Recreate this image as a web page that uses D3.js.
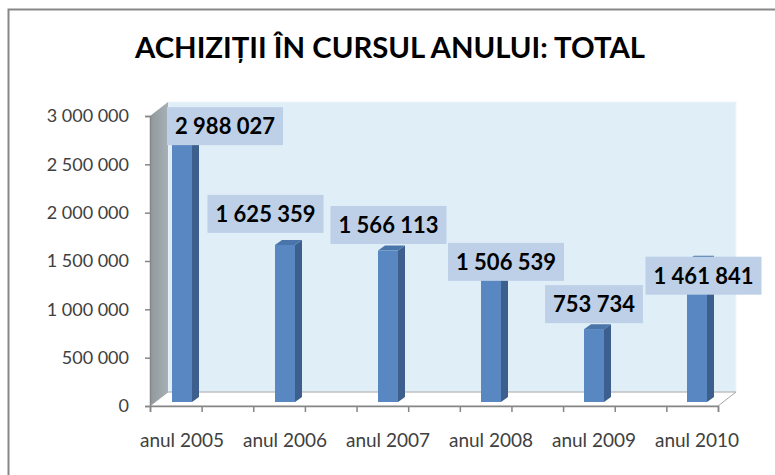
<!DOCTYPE html>
<html lang="ro">
<head>
  <meta charset="UTF-8">
  <title>Achizitii in cursul anului: total</title>
  <script src="https://d3js.org/d3.v7.min.js"></script>
  <style>
    body {
      margin: 0;
      padding: 0;
      background-color: #fff;
      font-family: Lato, "Open Sans", sans-serif;
    }
    svg {
      display: block;
    }
  </style>
</head>
<body>
  <svg id="chart"></svg>
  <script>
const categories = ["anul 2005", "anul 2006", "anul 2007", "anul 2008", "anul 2009", "anul 2010"];
const values = [2988027, 1625359, 1566113, 1506539, 753734, 1461841];
const yTicks = [0, 500000, 1000000, 1500000, 2000000, 2500000, 3000000];

// labels were moved by hand in the original, so nudge them the same way (dx, dy from bar top)
const labelShift = [[43, 13], [-19.5, -31], [0.5, -25.6], [15, 5.5], [0, -25], [6.5, 15]];

const width = 775;
const height = 475;
const depthX = 18;   // 3d offset of back wall
const depthY = -14;
const front = { left: 150, right: 718, bottom: 406, top: 116 };

const svg = d3.select("#chart")
  .attr("width", width)
  .attr("height", height);

const ro = d3.formatLocale({ decimal: ",", thousands: " ", grouping: [3], currency: ["", ""] });
const fmt = ro.format(",d");

// outer frame
svg.append("rect")
  .attr("x", 8.5).attr("y", 9.5)
  .attr("width", 790).attr("height", 490)
  .attr("fill", "#fff")
  .attr("stroke", "#878787")
  .attr("stroke-width", 2);

svg.append("text")
  .attr("x", 390)
  .attr("y", 58)
  .attr("text-anchor", "middle")
  .attr("textLength", 510)
  .attr("lengthAdjust", "spacingAndGlyphs")
  .style("font-size", "29px")
  .style("font-weight", "bold")
  .attr("fill", "#000")
  .text("ACHIZIȚII ÎN CURSUL ANULUI: TOTAL");

const y = d3.scaleLinear()
  .domain([0, 3000000])
  .range([front.bottom, front.top]);

const x = d3.scaleBand()
  .domain(categories)
  .range([130.5, 748.5]);

// back wall
svg.append("rect")
  .attr("x", front.left + depthX)
  .attr("y", front.top + depthY)
  .attr("width", front.right - front.left)
  .attr("height", front.bottom - front.top)
  .attr("fill", "#dfeef7")
  .attr("stroke", "#eef6fb")
  .attr("stroke-width", 1);

// side wall
const defs = svg.append("defs");
const grad = defs.append("linearGradient").attr("id", "wallGrad")
  .attr("x1", "0").attr("x2", "1").attr("y1", "0").attr("y2", "0");
grad.append("stop").attr("offset", "0").attr("stop-color", "#8f999d");
grad.append("stop").attr("offset", "1").attr("stop-color", "#a7b0b4");

svg.append("polygon")
  .attr("points", [
    [front.left, front.top], [front.left + depthX, front.top + depthY],
    [front.left + depthX, front.bottom + depthY], [front.left, front.bottom]
  ].join(" "))
  .attr("fill", "url(#wallGrad)");

// floor
svg.append("polygon")
  .attr("points", [
    [front.left, front.bottom], [front.left + depthX, front.bottom + depthY],
    [front.right + depthX, front.bottom + depthY], [front.right, front.bottom]
  ].join(" "))
  .attr("fill", "#fff")
  .attr("stroke", "#a6a6a6")
  .attr("stroke-width", 1);

// axes
const yAxis = svg.append("g")
  .attr("transform", `translate(${front.left},0)`)
  .call(d3.axisLeft(y).tickValues(yTicks).tickSize(5).tickPadding(16).tickFormat(fmt));

const xTick = d3.scaleLinear().domain([0, 11]).range([front.left, front.right]);
const xAxis = svg.append("g")
  .attr("transform", `translate(0,${front.bottom})`)
  .call(d3.axisBottom(xTick).tickValues(d3.range(12)).tickSize(6).tickFormat(""));

[yAxis, xAxis].forEach(g => {
  g.select(".domain").attr("stroke", "#868686").attr("stroke-width", 1.5);
  g.selectAll(".tick line").attr("stroke", "#868686").attr("stroke-width", 1.5);
});
yAxis.selectAll(".tick text")
  .style("font-size", "18px")
  .style("font-family", "Lato, sans-serif")
  .attr("fill", "#404040");

svg.append("g")
  .selectAll("text")
  .data(categories)
  .join("text")
  .attr("x", d => x(d) + x.bandwidth() / 2)
  .attr("y", 447)
  .attr("text-anchor", "middle")
  .style("font-size", "19px")
  .attr("fill", "#404040")
  .text(d => d);

// bars
const barW = 20, sideW = 7, topH = 5, barBase = front.bottom - 4;
const bars = svg.append("g")
  .selectAll("g")
  .data(values)
  .join("g");

bars.append("rect")
  .attr("x", (d, i) => x(categories[i]) + x.bandwidth() / 2 - barW / 2)
  .attr("y", d => y(d) - 4)
  .attr("width", barW)
  .attr("height", d => barBase - (y(d) - 4))
  .attr("fill", "#5887c2");

bars.append("polygon")
  .attr("points", (d, i) => {
    const r = x(categories[i]) + x.bandwidth() / 2 + barW / 2;
    const t = y(d) - 4;
    return [[r, t], [r + sideW, t - topH], [r + sideW, barBase - topH], [r, barBase]].join(" ");
  })
  .attr("fill", "#3c5f8d");

bars.append("polygon")
  .attr("points", (d, i) => {
    const l = x(categories[i]) + x.bandwidth() / 2 - barW / 2;
    const t = y(d) - 4;
    return [[l, t], [l + sideW, t - topH], [l + barW + sideW, t - topH], [l + barW, t]].join(" ");
  })
  .attr("fill", "#4a75aa");

// data labels
const boxH = 38;
const labels = svg.append("g")
  .selectAll("g")
  .data(values)
  .join("g")
  .attr("transform", (d, i) => {
    const cx = x(categories[i]) + x.bandwidth() / 2 + labelShift[i][0];
    const cy = y(d) - 4 + labelShift[i][1];
    return `translate(${cx},${cy})`;
  });

labels.append("text")
  .attr("text-anchor", "middle")
  .attr("dy", "0.36em")
  .style("font-size", "22px")
  .style("font-weight", "bold")
  .attr("fill", "#000")
  .text(d => fmt(d));

labels.each(function() {
  const g = d3.select(this);
  const w = g.select("text").node().getComputedTextLength() + 16;
  g.insert("rect", "text")
    .attr("x", -w / 2)
    .attr("y", -boxH / 2)
    .attr("width", w)
    .attr("height", boxH)
    .attr("fill", "#bdd0e7");
});
  </script>
</body>
</html>
